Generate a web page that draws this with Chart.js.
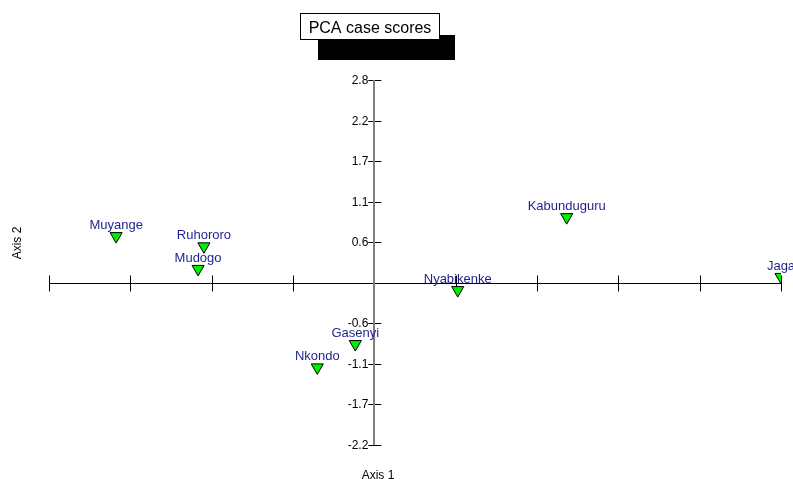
<!DOCTYPE html>
<html>
<head>
<meta charset="utf-8">
<script src="https://cdn.jsdelivr.net/npm/chart.js@4.4.1/dist/chart.umd.min.js"></script>
<style>
  html, body { margin: 0; padding: 0; background: #fff; }
  #wrap { width: 793px; height: 479px; }
</style>
</head>
<body>
<div id="wrap"><canvas id="pcaChart"></canvas></div>
<script>
const siteNames = ["Muyange", "Ruhororo", "Mudogo", "Nyabikenke", "Kabunduguru", "Jaga", "Gasenyi", "Nkondo"];
const axis1Scores = [-3.53, -2.33, -2.41, 1.14, 2.63, 5.56, -0.26, -0.78];
const axis2Scores = [0.64, 0.50, 0.19, -0.10, 0.90, 0.08, -0.84, -1.16];

// tick steps of the two axes (axis 1 steps are twice the axis 2 steps)
const yStep = 0.556;
const xStep = 1.112;
const yTickLabels = ["-2.2", "-1.7", "-1.1", "-0.6", "", "0.6", "1.1", "1.7", "2.2", "2.8"];

const FONT = "'Liberation Sans', Arial, sans-serif";

const pcaChart = document.getElementById("pcaChart");

// axis lines, cross ticks, tick labels, site labels, axis titles and the title box
const decorPlugin = {
    id: 'decor',
    beforeDatasetsDraw(chart) {
        const ctx = chart.ctx;
        const xs = chart.scales.x, ys = chart.scales.y;
        const x0 = xs.getPixelForValue(0), y0 = Math.round(ys.getPixelForValue(0)) + 0.5;
        ctx.save();
        ctx.strokeStyle = '#000';
        ctx.lineWidth = 1;
        ctx.beginPath();
        ctx.moveTo(xs.left, y0);
        ctx.lineTo(xs.right, y0);
        ctx.stroke();

        xs.ticks.forEach(t => {
            const px = Math.round(xs.getPixelForValue(t.value)) + 0.5;
            ctx.beginPath();
            ctx.moveTo(px, y0 - 8);
            ctx.lineTo(px, y0 + 8);
            ctx.stroke();
        });
        ctx.font = "12px " + FONT;
        ctx.fillStyle = '#000';
        ctx.textAlign = 'right';
        ctx.textBaseline = 'middle';
        ys.ticks.forEach((t, i) => {
            if (Math.abs(t.value) < 1e-6) return;
            const py = Math.round(ys.getPixelForValue(t.value)) + 0.5;
            ctx.beginPath();
            ctx.moveTo(x0 - 6, py);
            ctx.lineTo(x0 + 7, py);
            ctx.stroke();
            ctx.fillText(yTickLabels[i], x0 - 6, py);
        });

        ctx.strokeStyle = '#808080';
        ctx.lineWidth = 2;
        ctx.beginPath();
        ctx.moveTo(Math.round(x0), ys.top);
        ctx.lineTo(Math.round(x0), ys.bottom);
        ctx.stroke();
        ctx.restore();
    },
    afterDraw(chart) {
        const ctx = chart.ctx;
        ctx.save();
        ctx.font = "13px " + FONT;
        ctx.fillStyle = '#1f1f8f';
        ctx.textAlign = 'center';
        ctx.textBaseline = 'alphabetic';
        chart.getDatasetMeta(0).data.forEach((pt, i) => {
            ctx.fillText(siteNames[i], pt.x, pt.y - 7);
        });

        ctx.font = "12px " + FONT;
        ctx.fillStyle = '#000';
        ctx.fillText("Axis 1", 378, 479);
        ctx.save();
        ctx.translate(21, 243);
        ctx.rotate(-Math.PI / 2);
        ctx.fillText("Axis 2", 0, 0);
        ctx.restore();

        ctx.fillStyle = '#000';
        ctx.fillRect(318, 35, 137, 25);
        ctx.fillStyle = '#fff';
        ctx.fillRect(301, 14, 138, 25);
        ctx.strokeStyle = '#000';
        ctx.lineWidth = 1;
        ctx.strokeRect(300.5, 13.5, 139, 26);
        ctx.fillStyle = '#000';
        ctx.font = "16px " + FONT;
        ctx.fillText("PCA case scores", 370, 33);
        ctx.restore();
    }
};

new Chart(pcaChart, {
    type: 'scatter',
    data: {
        datasets: [{
            data: axis1Scores.map((v, i) => ({ x: v, y: axis2Scores[i] })),
            pointStyle: 'triangle',
            rotation: 180,
            radius: 7,
            hoverRadius: 7,
            backgroundColor: '#00ee00',
            borderColor: '#000',
            borderWidth: 1
        }]
    },
    options: {
        responsive: true,
        maintainAspectRatio: false,
        animation: false,
        events: [],
        layout: { padding: { left: 49, right: 12, top: 80, bottom: 34 } },
        plugins: {
            legend: { display: false },
            tooltip: { enabled: false }
        },
        scales: {
            x: {
                type: 'linear',
                position: { y: 0 },
                min: -4 * xStep,
                max: 5 * xStep,
                afterBuildTicks: (scale) => {
                    const ticks = [];
                    for (let k = -4; k <= 5; k++) ticks.push({ value: k * xStep });
                    scale.ticks = ticks;
                },
                grid: { display: false },
                border: { display: false },
                ticks: { display: false }
            },
            y: {
                type: 'linear',
                position: { x: 0 },
                min: -4 * yStep,
                max: 5 * yStep,
                afterBuildTicks: (scale) => {
                    const ticks = [];
                    for (let k = -4; k <= 5; k++) ticks.push({ value: k * yStep });
                    scale.ticks = ticks;
                },
                grid: { display: false },
                border: { display: false },
                ticks: { display: false }
            }
        }
    },
    plugins: [decorPlugin]
});
</script>
</body>
</html>
